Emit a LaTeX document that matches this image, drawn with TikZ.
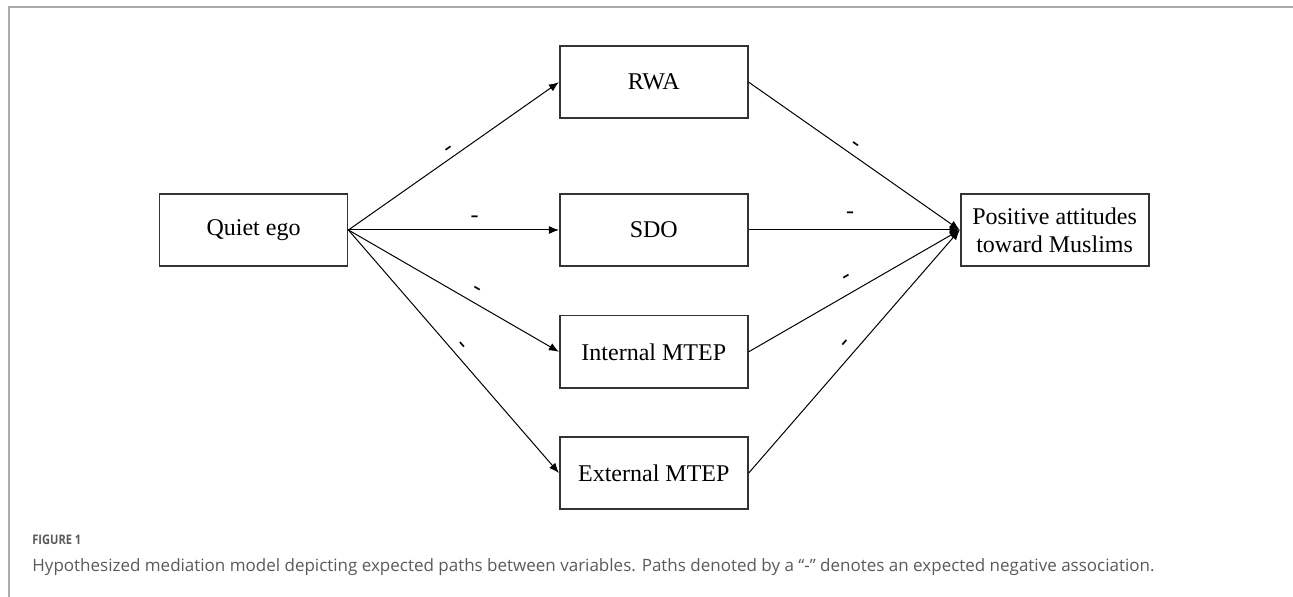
\documentclass[tikz,border=0pt]{standalone}
\usepackage{fontspec}
\setmainfont{Liberation Serif}
\newfontfamily\capfont{Open Sans}
\newfontfamily\fignofont[FakeStretch=0.84]{Open Sans}
\usepackage{tikz}
\usetikzlibrary{positioning, arrows.meta}
\definecolor{framegray}{HTML}{ABABAB}
\definecolor{capgray}{HTML}{5A5A5A}

\begin{document}
\begin{tikzpicture}[
        x=0.5pt, y=-0.5pt,
        var/.style={draw=black!80, line width=0.9pt, minimum width=94pt, minimum height=36.2pt,
            align=center, inner sep=2pt, font=\fontsize{12}{14}\selectfont},
        link/.style={-{Latex[length=5pt,width=4pt]}, line width=0.5pt},
        sign/.style={sloped, inner sep=0pt, font=\fontsize{12}{14}\selectfont}
    ]
        \useasboundingbox (0,0) rectangle (1293,597);
        % page frame
        \draw[framegray, line width=1pt] (8.5,597) -- (8.5,7) -- (1293,7);

        % predictor, mediators, outcome
        \node[var] (qe) at (253.5,230) {Quiet ego};
        \node[var, right=105.25pt of qe] (sdo) {SDO};
        \node[var, above=36.8pt of sdo] (rwa) {RWA};
        \node[var, below=23.8pt of sdo] (int) {Internal MTEP};
        \node[var, below=23.5pt of int] (ext) {External MTEP};
        \node[var, right=105.5pt of sdo] (pos) {Positive attitudes\\toward Muslims};

        % Quiet ego -> mediators
        \draw[link] (qe.east) -- node[sign, pos=.5, above=1.4pt] {-} (rwa.west);
        \draw[link] (qe.east) -- node[sign, pos=.6, above=3.7pt] {-} (sdo.west);
        \draw[link] (qe.east) -- node[sign, pos=.58, above=3.7pt] {-} (int.west);
        \draw[link] (qe.east) -- node[sign, pos=.5, above=2.4pt] {-} (ext.west);

        % mediators -> outcome
        \draw[link] (rwa.east) -- node[sign, pos=.48, above=2.4pt] {-} (pos.west);
        \draw[link] (sdo.east) -- node[sign, pos=.48, above=5.7pt] {-} (pos.west);
        \draw[link] (int.east) -- node[sign, pos=.5, above=5.2pt] {-} (pos.west);
        \draw[link] (ext.east) -- node[sign, pos=.5, above=3.2pt] {-} (pos.west);

        % caption
        \node[anchor=base west, inner sep=0pt, text=capgray, font=\fignofont\bfseries\fontsize{6.6}{8}\selectfont]
            (figno) at (32,544) {FIGURE 1};
        \node[anchor=base west, inner sep=0pt, text=capgray, font=\capfont\fontsize{8.5}{10}\selectfont]
            (cap) at (32,571) {Hypothesized mediation model depicting expected paths between variables. Paths denoted by a “-” denotes an expected negative association.};
    \end{tikzpicture}
\end{document}
